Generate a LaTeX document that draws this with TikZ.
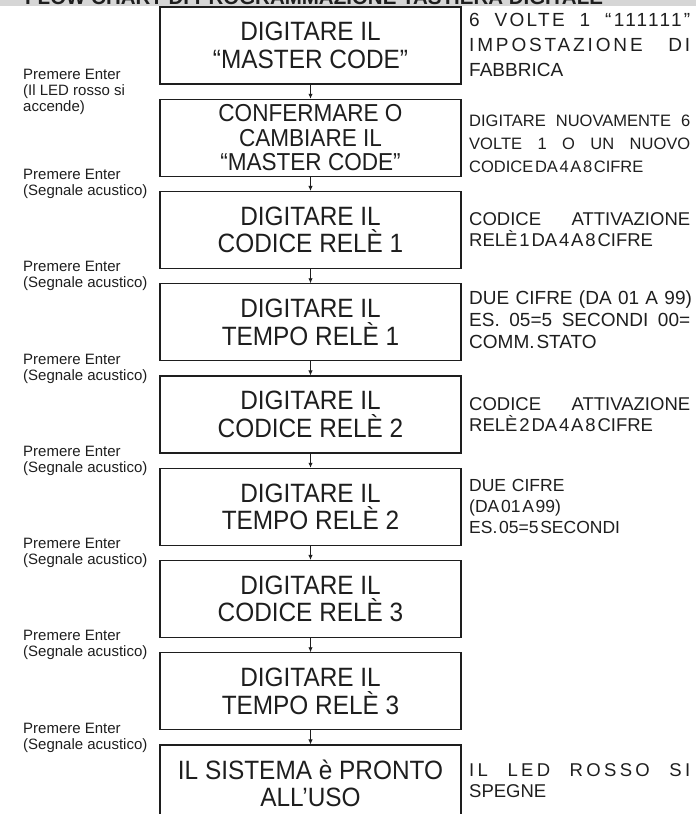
\documentclass[tikz,border=0pt]{standalone}
\usepackage{fontspec}
\setmainfont{Liberation Sans}
\newfontfamily\boxfont{Liberation Sans}[FakeStretch=0.92]
\usetikzlibrary{arrows.meta}
\definecolor{ink}{HTML}{1E1E1E}
\definecolor{band}{HTML}{D6D6D6}
\newcommand{\jline}[1]{\makebox[\linewidth][s]{\spaceskip=0.3333em plus 1em\relax #1}}
\newcommand{\lsline}[2]{\makebox[\linewidth][s]{\addfontfeature{LetterSpace=#1}\spaceskip=0.3333em plus 1em\relax #2}}
\newcommand{\tline}[1]{{\spaceskip=0.1em plus 0.05em\relax #1}}
\begin{document}
\begin{tikzpicture}[x=1pt,y=-1pt,
  stepbox/.style={draw=ink, line width=1.1pt, minimum width=301pt, minimum height=77pt,
    inner sep=0pt, align=center, font=\boxfont\fontsize{26.5}{27.5}\selectfont, text=ink},
  lab/.style={anchor=west, align=left, inner sep=0pt, font=\fontsize{15}{16}\selectfont, text=ink},
  note/.style={anchor=west, align=left, inner sep=0pt, text width=221pt, text=ink},
  arr/.style={draw=ink, line width=0.9pt, -{Latex[length=5pt,width=4.5pt]}}]
\useasboundingbox (0,0) rectangle (696,814);
\clip (0,0) rectangle (696,814);
% title band
\begin{scope}
  \clip (0,0) rectangle (696,5.5);
  \fill[band] (0,0) rectangle (696,5.5);
  \node[anchor=base west, inner sep=0pt, text=ink, font=\bfseries\fontsize{20.5}{20.5}\selectfont] (title) at (25,4) {FLOW CHART DI PROGRAMMAZIONE TASTIERA DIGITALE};
\end{scope}
% boxes
\node[stepbox] (b1) at (310.5,45.5) {DIGITARE IL\\“MASTER CODE”};
\node[stepbox, font=\boxfont\fontsize{24.5}{24.5}\selectfont] (b2) at (310.5,137.8) {CONFERMARE O\\CAMBIARE IL\\“MASTER CODE”};
\node[stepbox] (b3) at (310.5,230) {DIGITARE IL\\CODICE RELÈ 1};
\node[stepbox] (b4) at (310.5,322.3) {DIGITARE IL\\TEMPO RELÈ 1};
\node[stepbox] (b5) at (310.5,414.5) {DIGITARE IL\\CODICE RELÈ 2};
\node[stepbox] (b6) at (310.5,506.8) {DIGITARE IL\\TEMPO RELÈ 2};
\node[stepbox] (b7) at (310.5,599) {DIGITARE IL\\CODICE RELÈ 3};
\node[stepbox] (b8) at (310.5,691.3) {DIGITARE IL\\TEMPO RELÈ 3};
\node[stepbox] (b9) at (310.5,783.5) {IL SISTEMA è PRONTO\\ALL’USO};
% arrows
\draw[arr] (b1.south) -- (b2.north);
\draw[arr] (b2.south) -- (b3.north);
\draw[arr] (b3.south) -- (b4.north);
\draw[arr] (b4.south) -- (b5.north);
\draw[arr] (b5.south) -- (b6.north);
\draw[arr] (b6.south) -- (b7.north);
\draw[arr] (b7.south) -- (b8.north);
\draw[arr] (b8.south) -- (b9.north);
% left labels
\node[lab] (l1) at (23,92) {Premere Enter\\(Il LED rosso si\\accende)};
\node[lab] (l2) at (23,183.9) {Premere Enter\\(Segnale acustico)};
\node[lab] (l3) at (23,276.1) {Premere Enter\\(Segnale acustico)};
\node[lab] (l4) at (23,368.4) {Premere Enter\\(Segnale acustico)};
\node[lab] (l5) at (23,460.6) {Premere Enter\\(Segnale acustico)};
\node[lab] (l6) at (23,552.9) {Premere Enter\\(Segnale acustico)};
\node[lab] (l7) at (23,645.1) {Premere Enter\\(Segnale acustico)};
\node[lab] (l8) at (23,737.4) {Premere Enter\\(Segnale acustico)};
% right notes
\node[note, font=\fontsize{19}{25}\selectfont] (n1) at (469,45)
  {\lsline{12}{6 VOLTE 1 “111111”}\\\lsline{15}{IMPOSTAZIONE DI}\\FABBRICA};
\node[note, font=\fontsize{16.5}{23}\selectfont] (n2) at (469,144)
  {\jline{DIGITARE NUOVAMENTE 6}\\\jline{VOLTE 1 O UN NUOVO}\\\tline{CODICE DA 4 A 8 CIFRE}};
\node[note, font=\fontsize{18.5}{21}\selectfont] (n3) at (469,229.5)
  {\jline{CODICE ATTIVAZIONE}\\\tline{RELÈ 1 DA 4 A 8 CIFRE}};
\node[note, font=\fontsize{19}{22}\selectfont] (n4) at (469,320)
  {\jline{DUE CIFRE (DA 01 A 99)}\\\jline{ES. 05=5 SECONDI 00=}\\\tline{COMM. STATO}};
\node[note, font=\fontsize{18.5}{21}\selectfont] (n5) at (469,414.5)
  {\jline{CODICE ATTIVAZIONE}\\\tline{RELÈ 2 DA 4 A 8 CIFRE}};
\node[note, font=\fontsize{17.5}{21}\selectfont] (n6) at (469,506)
  {DUE CIFRE\\\tline{(DA 01 A 99)}\\\tline{ES. 05=5 SECONDI}};
\node[note, font=\fontsize{18.5}{21}\selectfont] (n9) at (469,780.5)
  {\lsline{18}{IL LED ROSSO SI}\\SPEGNE};
\end{tikzpicture}
\end{document}
